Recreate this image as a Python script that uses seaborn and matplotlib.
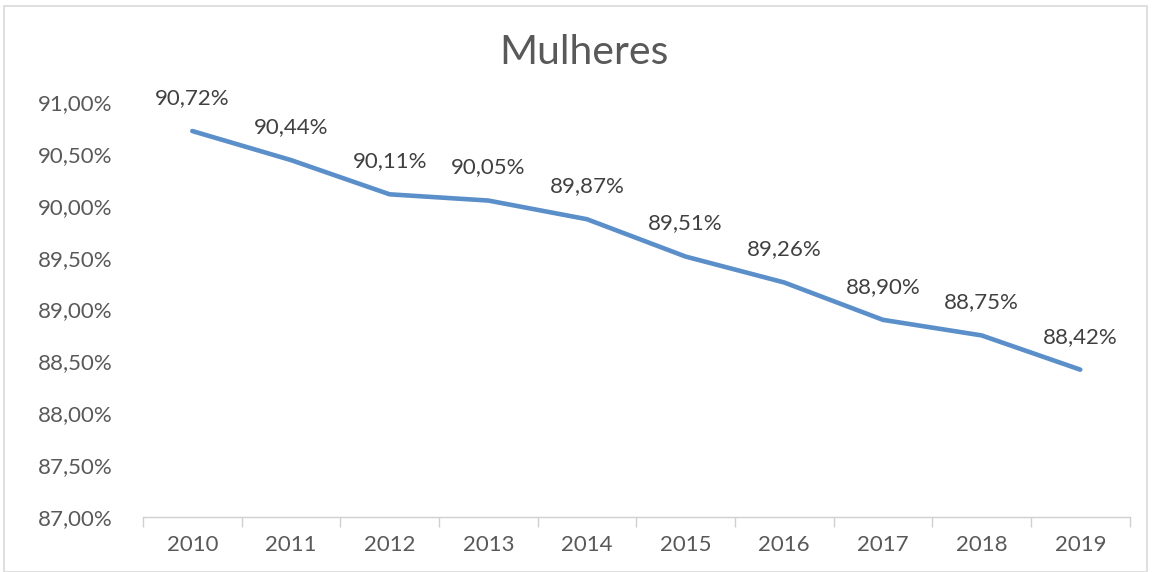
import matplotlib
matplotlib.use("Agg")
import matplotlib.pyplot as plt
import seaborn as sns
import pandas as pd
import numpy as np
from matplotlib.patches import Rectangle

years = [2010, 2011, 2012, 2013, 2014, 2015, 2016, 2017, 2018, 2019]
values = [90.72, 90.44, 90.11, 90.05, 89.87, 89.51, 89.26, 88.90, 88.75, 88.42]
labels = ["90,72%", "90,44%", "90,11%", "90,05%", "89,87%", "89,51%", "89,26%", "88,90%", "88,75%", "88,42%"]
yticks = [87.0, 87.5, 88.0, 88.5, 89.0, 89.5, 90.0, 90.5, 91.0]
ytick_labels = ["87,00%", "87,50%", "88,00%", "88,50%", "89,00%", "89,50%", "90,00%", "90,50%", "91,00%"]
title = "Mulheres"

sns.set_style("white")
plt.rcParams['font.family'] = ['Lato', 'DejaVu Sans']

df = pd.DataFrame({"ano": years, "valor": values})

fig = plt.figure(figsize=(11.55, 5.72), dpi=100)
ax = fig.add_axes([0.1238, 0.0962, 0.978 - 0.1238, 0.8217 - 0.0962])

sns.lineplot(data=df, x="ano", y="valor", ax=ax, color="#5b8fc9", linewidth=3.3)

for x, y, t in zip(years, values, labels):
    ax.annotate(t, (x, y), textcoords="offset pixels", xytext=(0, 33),
                ha="center", va="center", fontsize=16, color="#404040")

ax.set_xlim(years[0] - 0.5, years[-1] + 0.5)
ax.set_ylim(yticks[0], yticks[-1])
ax.set_yticks(yticks)
ax.set_yticklabels(ytick_labels)
ax.set_xticks(years)
ax.set_xticklabels([str(y) for y in years])
ax.set_xticks(np.arange(years[0] - 0.5, years[-1] + 1.0, 1.0), minor=True)
ax.tick_params(axis="x", which="major", bottom=False, length=0, pad=13, labelsize=16, labelcolor="#595959")
ax.tick_params(axis="x", which="minor", bottom=True, length=7, color="#d0d0d0", width=1)
ax.tick_params(axis="y", length=0, pad=22, labelsize=16, labelcolor="#595959")
ax.set_xlabel("")
ax.set_ylabel("")
for s in ["top", "right", "left"]:
    ax.spines[s].set_visible(False)
ax.spines["bottom"].set_color("#d0d0d0")
ax.spines["bottom"].set_linewidth(1)

fig.text(584 / 1155, 0.909, title, ha="center", va="center", fontsize=29.5, color="#595959")

fig.patches.append(Rectangle((4 / 1155, 0), 1143 / 1155, 1 - 6 / 572, transform=fig.transFigure,
                             fill=False, edgecolor="#d9d9d9", linewidth=1.2))

fig.savefig("out.png", dpi=100)
